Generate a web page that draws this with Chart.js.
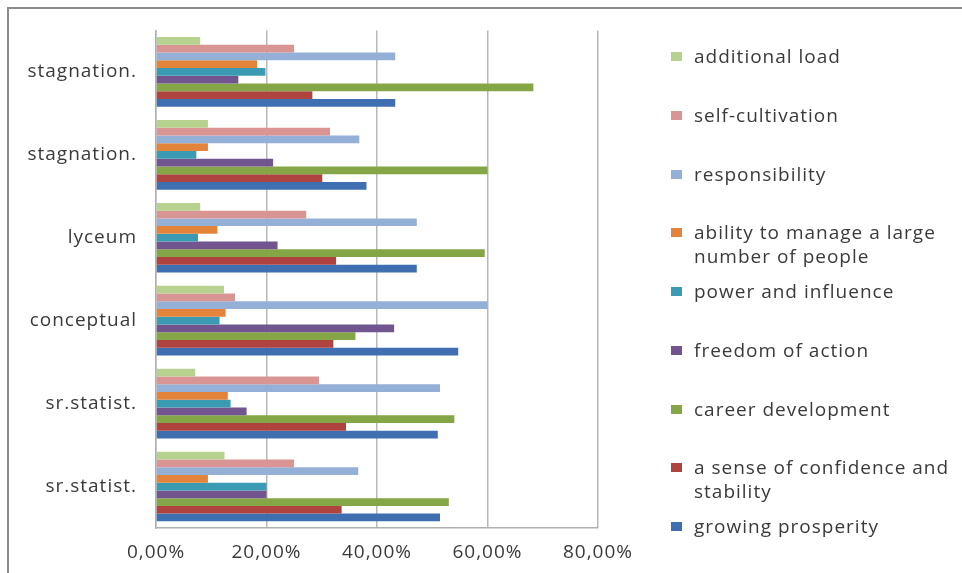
<!DOCTYPE html>
<html>
<head>
<meta charset="utf-8">
<script src="https://cdn.jsdelivr.net/npm/chart.js@4/dist/chart.umd.min.js"></script>
<style>
  html, body { margin: 0; padding: 0; background: #fff; }
  #wrap { position: relative; width: 962px; height: 573px; overflow: hidden; }
  #frame {
    position: absolute; left: 7px; top: 7px; width: 1000px; height: 700px;
    border-top: 2px solid #8c8c8c; border-left: 2px solid #8c8c8c;
  }
  #chart { position: absolute; left: 0; top: 0; }
  #legend {
    position: absolute; left: 668px; top: 44px; width: 292px;
    font-family: "Open Sans", sans-serif; font-size: 19px; color: #3a3a3a;
    letter-spacing: 1px;
  }
  .item { position: relative; height: 58.75px; padding-left: 26px; box-sizing: border-box; }
  .item .txt { line-height: 24px; width: 264px; }
  .item .key { position: absolute; left: 3px; top: 8px; width: 11px; height: 9px; }
</style>
</head>
<body>
<div id="wrap">
  <div id="frame"></div>
  <canvas id="chart" width="962" height="573"></canvas>
  <div id="legend"></div>
</div>
<script>
const categories = ["stagnation.", "stagnation.", "lyceum", "conceptual", "sr.statist.", "sr.statist."];

// values in %, one per category (top to bottom)
const additionalLoad = [8.0, 9.4, 8.0, 12.3, 7.1, 12.4];
const selfCultivation = [25.0, 31.5, 27.2, 14.3, 29.5, 25.0];
const responsibility = [43.3, 36.8, 47.2, 60.0, 51.4, 36.6];
const abilityToManage = [18.3, 9.4, 11.1, 12.6, 13.0, 9.4];
const powerInfluence = [19.8, 7.3, 7.6, 11.5, 13.5, 20.0];
const freedomOfAction = [14.9, 21.2, 22.0, 43.1, 16.4, 20.0];
const careerDevelopment = [68.3, 60.0, 59.5, 36.1, 54.0, 53.0];
const confidenceStability = [28.3, 30.1, 32.6, 32.1, 34.4, 33.6];
const growingProsperity = [43.3, 38.1, 47.2, 54.7, 51.0, 51.4];

const xTicks = [0, 20, 40, 60, 80];

const seriesList = [
  { label: "additional load", data: additionalLoad, color: "#b7d18f" },
  { label: "self-cultivation", data: selfCultivation, color: "#d99594" },
  { label: "responsibility", data: responsibility, color: "#94b0d7" },
  { label: "ability to manage a large number of people", data: abilityToManage, color: "#e3843a" },
  { label: "power and influence", data: powerInfluence, color: "#3a9bb3" },
  { label: "freedom of action", data: freedomOfAction, color: "#72548f" },
  { label: "career development", data: careerDevelopment, color: "#85a646" },
  { label: "a sense of confidence and stability", data: confidenceStability, color: "#ae4340" },
  { label: "growing prosperity", data: growingProsperity, color: "#3f6fb0" },
];

const textColor = "#3a3a3a";
const axisFont = { family: "Open Sans", size: 19 };

// wider text like the original rendering
const spacingPlugin = {
  id: "spacing",
  beforeDraw: (chart) => { chart.ctx.letterSpacing = "1px"; },
};

const ctx = document.getElementById("chart").getContext("2d");
new Chart(ctx, {
  type: "bar",
  data: {
    labels: categories,
    datasets: seriesList.map((s) => ({
      label: s.label,
      data: s.data,
      backgroundColor: s.color,
      borderWidth: 0,
      barPercentage: 1,
      categoryPercentage: 0.84,
    })),
  },
  plugins: [spacingPlugin],
  options: {
    indexAxis: "y",
    responsive: false,
    animation: false,
    layout: { padding: { top: 30, right: 364, left: 0, bottom: 0 } },
    plugins: { legend: { display: false }, tooltip: { enabled: false } },
    scales: {
      x: {
        min: 0,
        max: 80,
        afterBuildTicks: (scale) => {
          scale.ticks = xTicks.map((v) => ({ value: v }));
        },
        afterFit: (scale) => { scale.height = 45; },
        ticks: {
          padding: 13,
          color: textColor,
          font: axisFont,
          callback: (v) => v.toFixed(2).replace(".", ",") + "%",
        },
        grid: { color: "#b8b8b8", lineWidth: 1.5, drawTicks: false },
        border: { color: "#b0b0b0", width: 1.5 },
      },
      y: {
        afterFit: (scale) => { scale.width = 156; },
        ticks: { padding: 19, color: textColor, font: axisFont },
        grid: { display: false, drawTicks: false },
        border: { color: "#b0b0b0", width: 1.5 },
      },
    },
  },
});

const legend = document.getElementById("legend");
seriesList.forEach((s) => {
  const item = document.createElement("div");
  item.className = "item";
  const key = document.createElement("div");
  key.className = "key";
  key.style.background = s.color;
  const txt = document.createElement("div");
  txt.className = "txt";
  txt.textContent = s.label;
  item.appendChild(key);
  item.appendChild(txt);
  legend.appendChild(item);
});
</script>
</body>
</html>
